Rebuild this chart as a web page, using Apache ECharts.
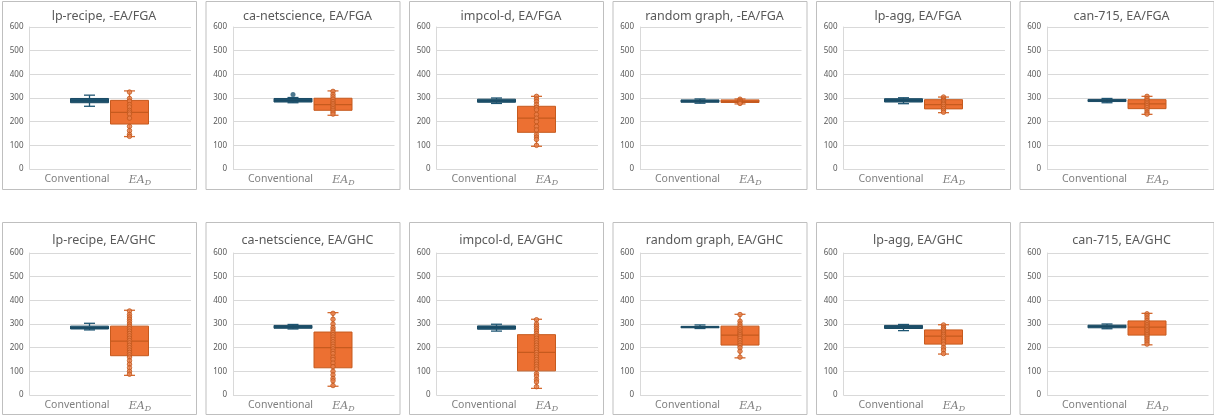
<!DOCTYPE html>
<html>
<head>
<meta charset="utf-8">
<script src="https://cdn.jsdelivr.net/npm/echarts@6/dist/echarts.min.js"></script>
<style>
html,body{margin:0;padding:0;background:#fff;}
#chart{width:1214px;height:417px;}
</style>
</head>
<body>
<div id="chart"></div>
<script>
// ---------------- DATA ----------------
const titles = [
  'lp-recipe, -EA/FGA', 'ca-netscience, EA/FGA', 'impcol-d, EA/FGA',
  'random graph, -EA/FGA', 'lp-agg, EA/FGA', 'can-715, EA/FGA',
  'lp-recipe, EA/GHC', 'ca-netscience, EA/GHC', 'impcol-d, EA/GHC',
  'random graph, EA/GHC', 'lp-agg, EA/GHC', 'can-715, EA/GHC'
];
const categories = ['Conventional', 'EA_D'];
const yMin = 0, yMax = 600, yStep = 100;

// [min, Q1, median, Q3, max]
const conventional = [
  [265, 280, 288, 298, 312],
  [280, 283, 290, 298, 302],
  [277, 282, 288, 295, 300],
  [278, 282, 287, 292, 296],
  [276, 283, 290, 297, 301],
  [280, 285, 289, 294, 298],
  [275, 279, 285, 291, 303],
  [279, 282, 288, 294, 298],
  [270, 278, 286, 292, 299],
  [281, 284, 287, 290, 296],
  [272, 281, 288, 294, 298],
  [280, 284, 290, 295, 300]
];
const eaD = [
  [137, 190, 239, 290, 330],
  [227, 248, 272, 299, 330],
  [96, 155, 215, 265, 307],
  [275, 281, 286, 292, 296],
  [238, 254, 272, 293, 304],
  [231, 255, 275, 293, 307],
  [83, 166, 228, 291, 358],
  [37, 115, 200, 266, 348],
  [28, 102, 180, 255, 320],
  [157, 211, 253, 291, 341],
  [173, 215, 249, 275, 297],
  [212, 253, 287, 313, 345]
];
const conventionalOutliers = [
  [], [315], [], [], [], [],
  [], [], [], [], [], []
];
const eaDPoints = [
  [325, 298, 287, 272, 262, 248, 240, 232, 215, 180, 162, 146, 138],
  [328, 315, 305, 295, 285, 277, 270, 262, 255, 248, 240, 232],
  [307, 295, 285, 272, 260, 250, 230, 215, 200, 180, 165, 145, 135, 125, 100],
  [295, 290, 285, 280, 277],
  [304, 296, 290, 284, 278, 272, 264, 256, 248, 240],
  [307, 298, 290, 282, 275, 268, 260, 250, 240, 232],
  [355, 340, 330, 320, 310, 300, 290, 280, 270, 260, 250, 240, 230, 220, 210, 200, 190, 180, 170, 160, 145, 130, 115, 100, 88],
  [345, 320, 300, 285, 275, 265, 255, 245, 235, 225, 215, 205, 195, 185, 175, 160, 150, 135, 120, 100, 85, 70, 60, 40],
  [318, 300, 290, 280, 270, 260, 250, 240, 230, 220, 210, 200, 190, 180, 170, 160, 150, 140, 130, 120, 110, 90, 80, 65, 55, 35],
  [340, 312, 300, 290, 280, 270, 262, 255, 248, 240, 230, 220, 210, 200, 185, 160],
  [296, 285, 278, 270, 262, 255, 248, 240, 232, 225, 215, 200, 190, 175],
  [343, 335, 325, 315, 305, 297, 290, 283, 276, 270, 262, 255, 248, 240, 232, 224, 215]
];

// ---------------- STYLE / LAYOUT ----------------
const boxFill = ['#1F5673', '#EC7032'];
const boxStroke = ['#1A4A63', '#C65A1E'];
const whiskerStroke = ['#1F5673', '#D46A30'];
const gridColor = '#D9D9D9';
const textColor = '#595959';
const labelColor = '#7F7F7F';

const colStep = 203.5, panelX0 = 2, panelW = 194;
const rowPanelTop = [1, 222], rowPanelH = [188, 192];
const rowPlotTop = [27, 253], plotH = 142;
const rowTitleTop = [5, 229];

const chart = echarts.init(document.getElementById('chart'), null, {renderer: 'canvas'});

const grid = [], xAxis = [], yAxis = [], series = [], title = [], graphic = [];

function renderBox(params, api) {
  const c = api.value(0);
  const xc = api.coord([c, 0])[0];
  const yLo = api.coord([c, api.value(1)])[1];
  const yQ1 = api.coord([c, api.value(2)])[1];
  const yMed = api.coord([c, api.value(3)])[1];
  const yQ3 = api.coord([c, api.value(4)])[1];
  const yHi = api.coord([c, api.value(5)])[1];
  const bw = api.size([1, 0])[0] * 0.95;
  const cap = 11;
  const idx = params.dataIndex;
  const wStyle = {stroke: whiskerStroke[idx], lineWidth: 1.3};
  return {
    type: 'group',
    children: [
      {type: 'line', shape: {x1: xc, y1: yHi, x2: xc, y2: yQ3}, style: wStyle},
      {type: 'line', shape: {x1: xc, y1: yLo, x2: xc, y2: yQ1}, style: wStyle},
      {type: 'line', shape: {x1: xc - cap / 2, y1: yHi, x2: xc + cap / 2, y2: yHi}, style: wStyle},
      {type: 'line', shape: {x1: xc - cap / 2, y1: yLo, x2: xc + cap / 2, y2: yLo}, style: wStyle},
      {type: 'rect', shape: {x: xc - bw / 2, y: yQ3, width: bw, height: Math.max(yQ1 - yQ3, 1)},
        style: {fill: boxFill[idx], stroke: boxStroke[idx], lineWidth: 1}},
      {type: 'line', shape: {x1: xc - bw / 2, y1: yMed, x2: xc + bw / 2, y2: yMed},
        style: {stroke: boxStroke[idx], lineWidth: 1.2}}
    ]
  };
}

for (let i = 0; i < 12; i++) {
  const col = i % 6, row = Math.floor(i / 6);
  const pl = panelX0 + col * colStep;
  const top = rowPlotTop[row];

  graphic.push({
    type: 'rect', left: pl, top: rowPanelTop[row], z: -10,
    shape: {width: panelW, height: rowPanelH[row]},
    style: {fill: '#fff', stroke: '#BFBFBF', lineWidth: 1}
  });

  title.push({
    text: titles[i], left: pl + panelW / 2, top: rowTitleTop[row], textAlign: 'center',
    textStyle: {fontFamily: 'Noto Sans', fontSize: 12.5, fontWeight: 'normal', color: textColor}
  });

  const gA = 3 * i, gB = 3 * i + 1, gC = 3 * i + 2;
  grid.push({left: pl + 27.5, top: top, width: 161.5, height: plotH, containLabel: false});
  grid.push({left: pl + 67.5, top: top, width: 80, height: plotH, containLabel: false});
  grid.push({left: pl + 43.5, top: top, width: 126, height: plotH, containLabel: false});

  xAxis.push({gridIndex: gA, type: 'category', data: [''], show: false});
  xAxis.push({gridIndex: gB, type: 'category', data: categories, show: false});
  xAxis.push({
    gridIndex: gC, type: 'category', data: categories,
    axisLine: {show: false}, axisTick: {show: false},
    axisLabel: {
      margin: 5, interval: 0,
      formatter: v => v === 'EA_D' ? '{i|EA}{s|D}' : '{n|' + v + '}',
      rich: {
        n: {fontFamily: 'Noto Sans', fontSize: 10.5, color: labelColor},
        i: {fontFamily: 'DejaVu Serif', fontStyle: 'italic', fontSize: 11, color: labelColor},
        s: {fontFamily: 'DejaVu Serif', fontStyle: 'italic', fontSize: 8, color: labelColor, verticalAlign: 'bottom', padding: [5, 0, 0, 0]}
      }
    }
  });

  yAxis.push({
    gridIndex: gA, type: 'value', min: yMin, max: yMax, interval: yStep,
    axisLine: {show: true, lineStyle: {color: gridColor}},
    axisTick: {show: false},
    axisLabel: {fontFamily: 'Noto Sans', fontSize: 8, color: textColor, margin: 6},
    splitLine: {lineStyle: {color: gridColor, width: 1}}
  });
  yAxis.push({gridIndex: gB, type: 'value', min: yMin, max: yMax, show: false, splitLine: {show: false}});
  yAxis.push({gridIndex: gC, type: 'value', min: yMin, max: yMax, show: false, splitLine: {show: false}});

  series.push({
    type: 'custom', xAxisIndex: gB, yAxisIndex: gB, z: 2,
    renderItem: renderBox,
    encode: {x: 0, y: [1, 2, 3, 4, 5]},
    data: [[0].concat(conventional[i]), [1].concat(eaD[i])],
    silent: true
  });
  series.push({
    type: 'scatter', xAxisIndex: gB, yAxisIndex: gB, z: 3, symbolSize: 4.5,
    itemStyle: {color: '#E9804A', borderColor: '#C0561B', borderWidth: 1},
    data: eaDPoints[i].map(v => [categories[1], v]),
    silent: true
  });
  series.push({
    type: 'scatter', xAxisIndex: gB, yAxisIndex: gB, z: 3, symbolSize: 5,
    itemStyle: {color: '#1F5673'},
    data: conventionalOutliers[i].map(v => [categories[0], v]),
    silent: true
  });
}

chart.setOption({
  animation: false,
  backgroundColor: '#fff',
  title, grid, xAxis, yAxis, series, graphic
});
</script>
</body>
</html>
